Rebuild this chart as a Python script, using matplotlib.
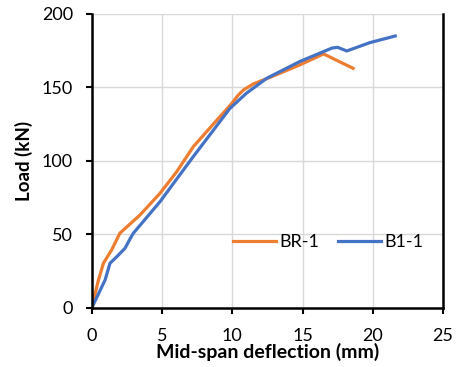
import matplotlib
matplotlib.use("Agg")
import matplotlib.pyplot as plt

br_x = [0, 0.45, 0.83, 1.42, 2.0, 2.6, 3.44, 4.86, 6.05, 7.23, 8.6, 9.96, 10.4, 10.8, 11.5, 12.7, 14.8, 16.5, 18.6]
br_y = [0, 18, 30.4, 39.5, 50.8, 56, 63.3, 78, 92.7, 109.7, 124.5, 139, 144.5, 148.3, 152.4, 156.9, 165.3, 172.8, 163]
b1_x = [0, 0.95, 1.3, 1.8, 2.37, 2.7, 2.96, 4.86, 7.23, 9.84, 11.0, 12.45, 14.8, 17.1, 17.5, 18.15, 19.8, 21.6]
b1_y = [0, 19, 30.4, 35, 40.6, 46.5, 50.8, 72.3, 103, 135.8, 146, 156.2, 167.6, 176.8, 177.3, 174.8, 180.5, 185]
xticks = [0, 5, 10, 15, 20, 25]
yticks = [0, 50, 100, 150, 200]

plt.rcParams['font.family'] = ['Lato', 'DejaVu Sans']
fig = plt.figure(figsize=(4.61, 3.67), dpi=100)
ax = fig.add_axes([0.199, 0.161, 0.762, 0.801])
ax.plot(br_x, br_y, color='#ED7D31', lw=2.3, label='BR-1', solid_joinstyle='round')
ax.plot(b1_x, b1_y, color='#4472C4', lw=2.3, label='B1-1', solid_joinstyle='round')
ax.set_xlim(0, 25)
ax.set_ylim(0, 200)
ax.set_xticks(xticks)
ax.set_yticks(yticks)
ax.grid(True, color='#d9d9d9', lw=1)
ax.set_axisbelow(True)
ax.spines['top'].set_visible(False)
for s in ['left', 'bottom', 'right']:
    ax.spines[s].set_linewidth(1.8)
    ax.spines[s].set_color('black')
ax.tick_params(direction='out', length=4.5, width=1.5, labelsize=13)
ax.tick_params(axis='y', pad=9)
ax.tick_params(axis='x', pad=10)
ax.set_xlabel('Mid-span deflection (mm)', fontsize=14, fontweight='bold', labelpad=-1)
ax.set_ylabel('Load (kN)', fontsize=13.5, fontweight='bold', labelpad=6)
ax.legend(loc='center right', bbox_to_anchor=(0.945, 0.224), ncol=2, frameon=False,
          fontsize=13, handlelength=2.4, columnspacing=1.0, handletextpad=0.2,
          borderaxespad=0, borderpad=0)
fig.savefig('out.png', dpi=100)
